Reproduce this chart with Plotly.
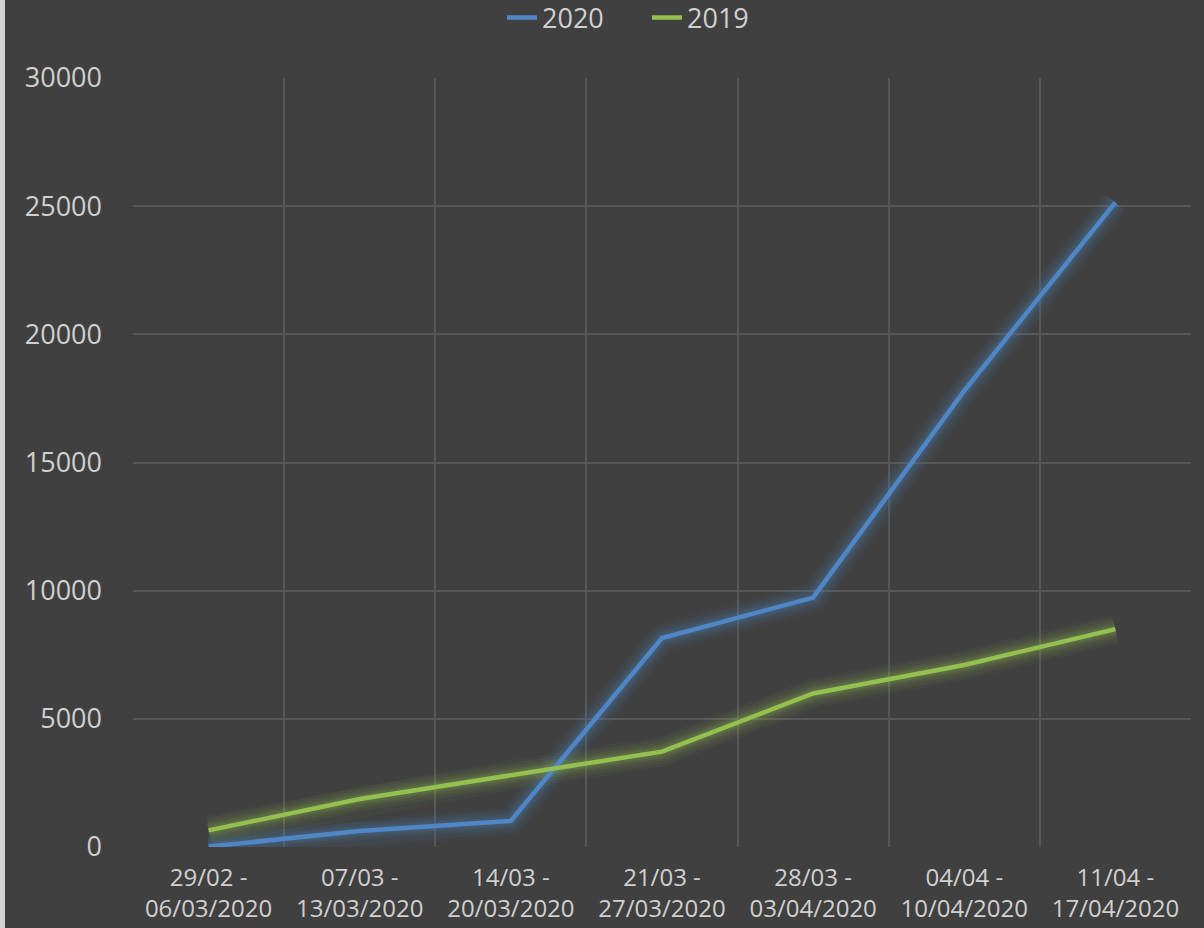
import plotly.graph_objects as go

categories = ["29/02 -<br>06/03/2020", "07/03 -<br>13/03/2020", "14/03 -<br>20/03/2020",
              "21/03 -<br>27/03/2020", "28/03 -<br>03/04/2020", "04/04 -<br>10/04/2020",
              "11/04 -<br>17/04/2020"]
values_2020 = [20, 620, 1020, 8150, 9730, 17800, 25150]
values_2019 = [650, 1870, 2800, 3720, 5990, 7100, 8500]
y_ticks = [0, 5000, 10000, 15000, 20000, 25000, 30000]
y_tick_text = ["0", "5000", "10000", "15000", "20000", "25000", "30000"]
grid_ticks = [5000, 10000, 15000, 20000, 25000, 30000]

BG = "#404040"
TXT = "#d0d0d0"
GRID = "#575757"
BLUE = "#4f86c6"
GREEN = "#93c04f"
FONT = "Open Sans"

fig = go.Figure()

# soft glow layers
for vals, rgb in [(values_2020, "79,134,198"), (values_2019, "147,192,79")]:
    for w, a in [(30, 0.05), (24, 0.06), (18, 0.08), (13, 0.10), (9, 0.12)]:
        fig.add_trace(go.Scatter(x=categories, y=vals, mode="lines", showlegend=False, hoverinfo="skip",
                                 line=dict(color=f"rgba({rgb},{a})", width=w)))

fig.add_trace(go.Scatter(x=categories, y=values_2020, name="2020", mode="lines",
                         line=dict(color=BLUE, width=4.5)))
fig.add_trace(go.Scatter(x=categories, y=values_2019, name="2019", mode="lines",
                         line=dict(color=GREEN, width=4.5)))

# grid-only overlay axis (no gridline at 0)
fig.add_trace(go.Scatter(x=categories, y=[None] * len(categories), yaxis="y2",
                         showlegend=False, hoverinfo="skip"))

fig.update_layout(
    width=1204, height=928,
    paper_bgcolor=BG, plot_bgcolor=BG,
    margin=dict(l=133, r=13, t=78, b=81, autoexpand=False),
    font=dict(family=FONT, color=TXT),
    showlegend=True,
    legend=dict(orientation="h", x=(502 - 133) / 1058, xanchor="left", y=1.078, yanchor="middle",
                entrywidth=100, entrywidthmode="pixels",
                font=dict(size=27, color=TXT, family=FONT), bgcolor="rgba(0,0,0,0)",
                traceorder="normal"),
    xaxis=dict(type="category", tickson="boundaries", showgrid=True, gridcolor=GRID, gridwidth=1.5,
               showline=False, zeroline=False, ticks="", ticklabelstandoff=14,
               tickfont=dict(size=24, color=TXT, family=FONT), range=[-0.5, 6.5]),
    yaxis=dict(range=[0, 30000], tickvals=y_ticks, ticktext=y_tick_text, showgrid=False,
               zeroline=False, showline=False, ticks="", ticklabelstandoff=30,
               tickfont=dict(size=27, color=TXT, family=FONT)),
    yaxis2=dict(range=[0, 30000], tickvals=grid_ticks, overlaying="y", side="left",
                showgrid=True, gridcolor=GRID, gridwidth=1.5, showticklabels=False,
                zeroline=False, showline=False, ticks=""),
    shapes=[dict(type="rect", xref="paper", yref="paper", x0=-133 / 1058, x1=-128 / 1058,
                 y0=-81 / 769, y1=1 + 78 / 769, fillcolor="#d4d4d4", line=dict(width=0), layer="below")],
)

fig.write_html("out.html", config={"displayModeBar": False},
               post_script="document.body.style.margin='0';document.body.style.background='#404040';")
